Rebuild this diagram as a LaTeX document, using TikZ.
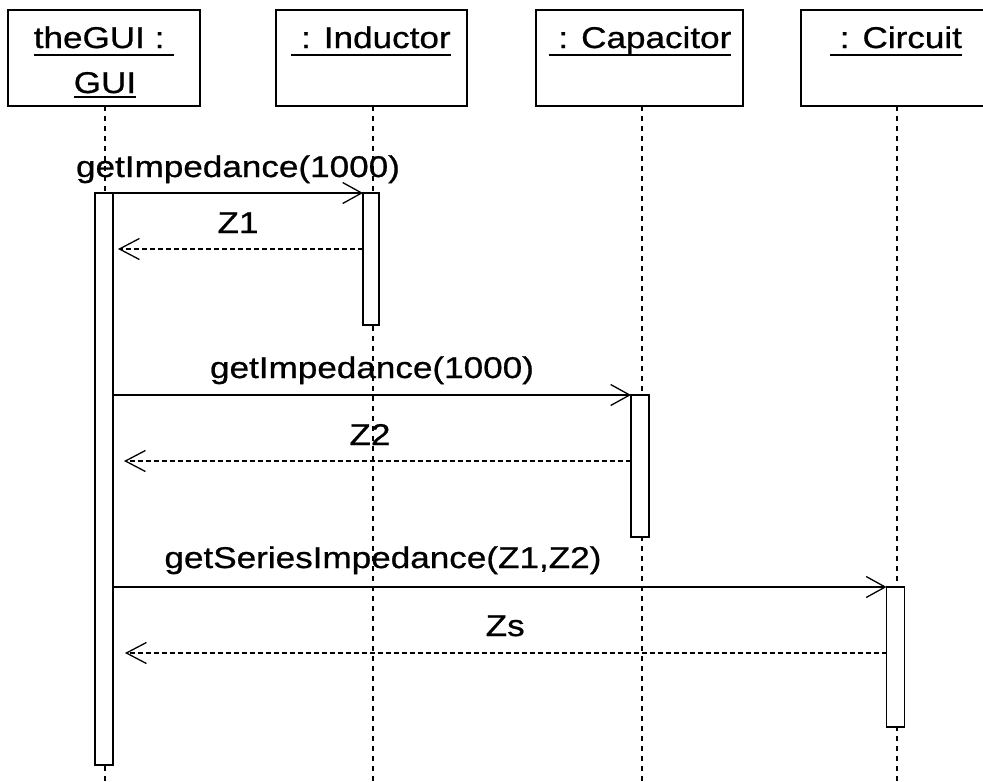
\documentclass[tikz,border=0pt]{standalone}
\usepackage{fontspec}
\setmainfont{Liberation Sans}[FakeStretch=1.17, FakeBold=0.8]
\usetikzlibrary{arrows.meta}

% underline at a fixed distance below the baseline: #1 = offset, #2 = text
\newcommand{\undl}[2]{\setbox0\hbox{#2}\rlap{\rule[-#1]{\wd0}{1.6pt}}\box0}

\begin{document}
\begin{tikzpicture}[x=1pt,y=-1pt,
  every node/.style={font=\fontsize{30pt}{36pt}\selectfont, inner sep=0pt, outer sep=0pt},
  objbox/.style={draw, line width=1.4pt, minimum height=96pt},
  objlbl/.style={anchor=base},
  actbar/.style={draw, fill=white, line width=1.4pt, minimum width=18pt},
  lifeline/.style={line width=1.3pt, dash pattern=on 5pt off 5pt},
  call/.style={line width=1.3pt, -{Straight Barb[length=19pt,width=21pt,line width=1.3pt]}},
  ret/.style={line width=1.3pt, dash pattern=on 5pt off 3pt, -{Straight Barb[length=20pt,width=21pt,line width=1.3pt]}},
  msglbl/.style={anchor=base}]

\path[use as bounding box, clip] (0,0) rectangle (983,782);

% object boxes
\node[objbox, minimum width=192pt] (gui) at (104,58) {};
\node[objbox, minimum width=191pt] (ind) at (371.5,58) {};
\node[objbox, minimum width=207pt] (cap) at (639.5,58) {};
\node[objbox, minimum width=192pt] (cir) at (897,58) {};

\node[objlbl] (guiLblA) at (104,48) {\undl{7.5pt}{theGUI :\ }};
\node[objlbl] (guiLblB) at (105,93) {\undl{4.5pt}{GUI}};
\node[objlbl] (indLbl) at (371,48) {\undl{7.5pt}{\ : Inductor}};
\node[objlbl] (capLbl) at (640,48) {\undl{7.5pt}{\ : Capacitor}};
\node[objlbl] (cirLbl) at (896,48) {\undl{7.5pt}{\ : Circuit}};

% lifeline ends
\coordinate (guiEnd) at (105,782);
\coordinate (indEnd) at (373,782);
\coordinate (capEnd) at (642,782);
\coordinate (cirEnd) at (897,782);

\draw[lifeline] (gui.south -| guiEnd) -- (guiEnd);
\draw[lifeline] (ind.south -| indEnd) -- (indEnd);
\draw[lifeline] (cap.south -| capEnd) -- (capEnd);
\draw[lifeline] (cir.south -| cirEnd) -- (cirEnd);

% activation bars
\node[actbar, minimum height=572pt] (guiBar) at (104,479) {};
\node[actbar, minimum height=132pt, minimum width=16pt] (indBar) at (371,259) {};
\node[actbar, minimum height=142pt] (capBar) at (640,466) {};
\node[actbar, minimum height=140pt] (cirBar) at (895.5,657) {};

% messages
\draw[call] (indBar.north west -| guiBar.east) -- (indBar.north west)
  node[msglbl, pos=0.5, yshift=16pt] {getImpedance(1000)};
\draw[ret, shorten >=5pt] (indBar.west |- 0,249) -- (guiBar.east |- 0,249)
  node[msglbl, pos=0.5, yshift=16pt] {Z1};

\draw[call] (capBar.north west -| guiBar.east) -- (capBar.north west)
  node[msglbl, pos=0.5, yshift=17pt] {getImpedance(1000)};
\draw[ret, shorten >=11pt] (capBar.west |- 0,461) -- (guiBar.east |- 0,461)
  node[msglbl, pos=0.504, yshift=16pt] {Z2};

\draw[call] (cirBar.north west -| guiBar.east) -- (cirBar.north west)
  node[msglbl, pos=0.349, yshift=19pt] {getSeriesImpedance(Z1,Z2)};
\draw[ret, shorten >=12pt] (cirBar.west |- 0,653) -- (guiBar.east |- 0,653)
  node[msglbl, pos=0.493, yshift=17pt] {Zs};

\end{tikzpicture}
\end{document}
